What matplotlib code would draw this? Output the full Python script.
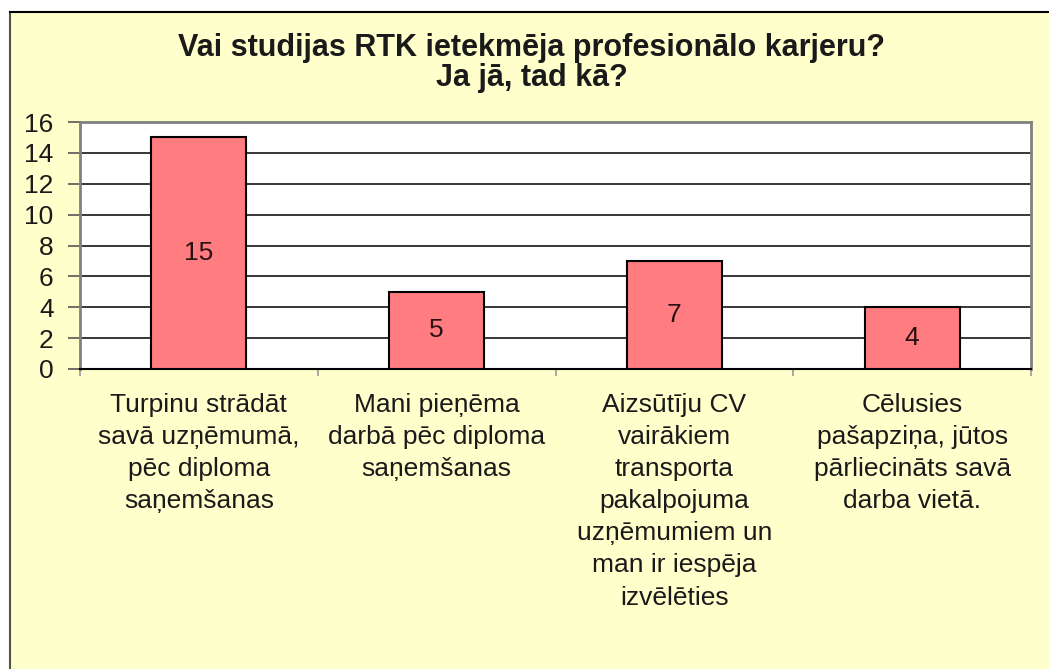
import matplotlib.pyplot as plt
import matplotlib.patches as patches
import numpy as np

# data
categories = [
    "Turpinu strādāt\nsavā uzņēmumā,\npēc diploma\nsaņemšanas",
    "Mani pieņēma\ndarbā pēc diploma\nsaņemšanas",
    "Aizsūtīju CV\nvairākiem\ntransporta\npakalpojuma\nuzņēmumiem un\nman ir iespēja\nizvēlēties",
    "Cēlusies\npašapziņa, jūtos\npārliecināts savā\ndarba vietā.",
]
values = [15, 5, 7, 4]
yticks = [0, 2, 4, 6, 8, 10, 12, 14, 16]
title = "Vai studijas RTK ietekmēja profesionālo karjeru?\nJa jā, tad kā?"

bg = "#FFFFCC"
bar_color = "#FF7C80"
text_color = "#1a1a1a"

plt.rcParams['font.family'] = ['Liberation Sans', 'DejaVu Sans']

fig = plt.figure(figsize=(10.49, 6.69), dpi=100)
fig.patch.set_facecolor("white")

# yellow chart area with border on left/top
frame = patches.Rectangle((10 / 1049, 0), 1.0, 1 - 12 / 669, transform=fig.transFigure,
                          facecolor=bg, edgecolor="none", zorder=-5)
fig.patches.append(frame)
fig.add_artist(plt.Line2D([10 / 1049, 10 / 1049], [0, 1 - 12 / 669], transform=fig.transFigure,
                          color="#555544", lw=1.5, zorder=-4))
fig.add_artist(plt.Line2D([10 / 1049, 1], [1 - 12 / 669, 1 - 12 / 669], transform=fig.transFigure,
                          color="black", lw=1.5, zorder=-4))

ax = fig.add_axes([80 / 1049, 1 - 369 / 669, (1031 - 80) / 1049, (369 - 122) / 669])
ax.set_facecolor("white")

x = np.arange(len(values))
bars = ax.bar(x, values, width=0.4, color=bar_color, edgecolor="black", linewidth=1.5, zorder=3)
for b, v in zip(bars, values):
    ax.text(b.get_x() + b.get_width() / 2, v / 2, str(v), ha="center", va="center",
            fontsize=19, color="#2a1010", zorder=4)

ax.set_xlim(-0.5, len(values) - 0.5)
ax.set_ylim(0, 16)
ax.set_yticks(yticks)
ax.set_yticklabels([str(t) for t in yticks], fontsize=19, color=text_color)
ax.tick_params(axis="y", length=9, width=1.2, color="#555555", pad=10)
ax.yaxis.grid(True, color="black", linewidth=1.1, zorder=1)
ax.set_axisbelow(True)

ax.set_xticks(x)
ax.set_xticklabels(categories, fontsize=19, color=text_color, linespacing=1.43)
ax.tick_params(axis="x", which="major", length=0, pad=17)
ax.set_xticks(np.arange(-0.5, len(values)), minor=True)
ax.tick_params(axis="x", which="minor", length=5, width=1.2, color="#999999")

for s in ["left", "top", "right"]:
    ax.spines[s].set_color("#808080")
    ax.spines[s].set_linewidth(2)
ax.spines["bottom"].set_color("black")
ax.spines["bottom"].set_linewidth(1.5)

fig.text(532 / 1049, 1 - 33 / 669, title, ha="center", va="top", fontsize=22,
         fontweight="bold", color=text_color, linespacing=1.0)

fig.savefig("out.png", dpi=100, facecolor=fig.get_facecolor())
